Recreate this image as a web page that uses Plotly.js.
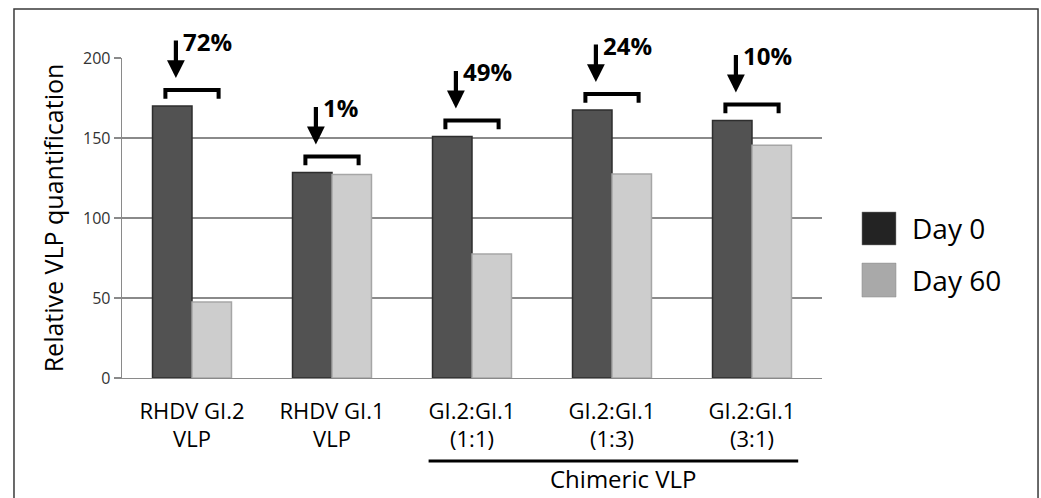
<!DOCTYPE html>
<html>
<head>
<meta charset="utf-8">
<script src="https://cdn.plot.ly/plotly-3.0.1.min.js"></script>
<style>
html,body{margin:0;padding:0;background:#fff;}
#chart{width:1041px;height:498px;}
</style>
</head>
<body>
<div id="chart"></div>
<script>
// ---- data ----
const categories = ['RHDV GI.2<br>VLP', 'RHDV GI.1<br>VLP', 'GI.2:GI.1<br>(1:1)', 'GI.2:GI.1<br>(1:3)', 'GI.2:GI.1<br>(3:1)'];
const day0 = [170, 128.5, 151, 167.5, 161];
const day60 = [47.5, 127.2, 77.5, 127.5, 145.5];
const dropLabels = ['72%', '1%', '49%', '24%', '10%'];
const seriesNames = ['Day 0', 'Day 60'];
const groupLabel = 'Chimeric VLP';
const yTicks = [0, 50, 100, 150, 200];

const FONT = '"Open Sans", Lato, sans-serif';
const xIdx = categories.map((c, i) => i);

const traces = [
  {type: 'bar', x: xIdx, y: day0, name: seriesNames[0], showlegend: false,
   marker: {color: '#525252', line: {color: '#2e2e2e', width: 1.5}}, hoverinfo: 'y'},
  {type: 'bar', x: xIdx, y: day60, name: seriesNames[1], showlegend: false,
   marker: {color: '#cdcdcd', line: {color: '#a6a6a6', width: 1.5}}, hoverinfo: 'y'}
];

const shapes = [];
const annotations = [];

// outer frame
shapes.push({type: 'rect', xref: 'paper', yref: 'paper', x0: -0.1543, x1: 1.3086, y0: -0.45, y1: 1.153,
  line: {color: '#3a3a3a', width: 1.5}, fillcolor: 'rgba(0,0,0,0)', layer: 'below'});

// brackets, arrows and drop labels
day0.forEach((v, i) => {
  const bl = i - 0.19, br = i + 0.19;
  const yh = v + 10, yb = v + 4.5;
  shapes.push({type: 'path', xref: 'x', yref: 'y',
    path: `M ${bl},${yb} L ${bl},${yh} L ${br},${yh} L ${br},${yb}`,
    line: {color: '#000', width: 4}});
  annotations.push({x: i - 0.115, y: v + 17.5, xref: 'x', yref: 'y', text: '', showarrow: true,
    ax: 0, ay: -39, arrowhead: 2, arrowsize: 0.85, arrowwidth: 4.2, arrowcolor: '#000', standoff: 0});
  annotations.push({x: i - 0.115, y: v + 17.5, xref: 'x', yref: 'y', text: '<b>' + dropLabels[i] + '</b>',
    showarrow: false, xanchor: 'left', yanchor: 'middle', xshift: 5, yshift: 37,
    font: {family: FONT, size: 24, color: '#000'}});
});

// chimeric group underline + label
shapes.push({type: 'line', xref: 'x', yref: 'paper', x0: 1.69, x1: 4.33, y0: -0.2597, y1: -0.2597,
  line: {color: '#000', width: 3}});
annotations.push({x: 3.08, y: -0.314, xref: 'x', yref: 'paper', text: groupLabel, showarrow: false,
  xanchor: 'center', yanchor: 'middle', font: {family: FONT, size: 24, color: '#000'}});

// legend (custom swatches)
const legendColors = ['#232323', '#a9a9a9'];
const legendY = [[0.4156, 0.5188], [0.253, 0.359]];
seriesNames.forEach((n, k) => {
  shapes.push({type: 'rect', xref: 'paper', yref: 'paper', x0: 1.0571, x1: 1.1057,
    y0: legendY[k][0], y1: legendY[k][1], fillcolor: legendColors[k], line: {color: '#888', width: 0.5}});
  annotations.push({x: 1.1257, y: (legendY[k][0] + legendY[k][1]) / 2, xref: 'paper', yref: 'paper',
    text: n, showarrow: false, xanchor: 'left', yanchor: 'middle',
    font: {family: FONT, size: 28, color: '#000'}});
});

const layout = {
  width: 1041, height: 498,
  margin: {l: 122, r: 219, t: 58, b: 120},
  paper_bgcolor: '#fff', plot_bgcolor: '#fff',
  barmode: 'group', bargap: 0.436, bargroupgap: 0,
  showlegend: false,
  font: {family: FONT, color: '#000'},
  xaxis: {
    range: [-0.5, 4.5], tickvals: xIdx, ticktext: categories,
    showline: true, linecolor: '#8a8a8a', linewidth: 1.3, ticks: '', showgrid: false, zeroline: false,
    tickfont: {family: FONT, size: 22, color: '#000'}, ticklabelstandoff: 13
  },
  yaxis: {
    range: [0, 200], tickvals: yTicks, ticktext: yTicks.map(String),
    showline: true, linecolor: '#8a8a8a', linewidth: 1.3,
    showgrid: true, gridcolor: '#8a8a8a', gridwidth: 1.3, zeroline: false,
    ticks: 'outside', ticklen: 7, tickcolor: '#8a8a8a', tickwidth: 1.3,
    tickfont: {family: FONT, size: 16, color: '#333'},
    title: {text: 'Relative VLP quantification', font: {family: FONT, size: 25, color: '#000'}, standoff: 12}
  },
  shapes: shapes,
  annotations: annotations
};

Plotly.newPlot('chart', traces, layout, {displayModeBar: false, staticPlot: true});
</script>
</body>
</html>
